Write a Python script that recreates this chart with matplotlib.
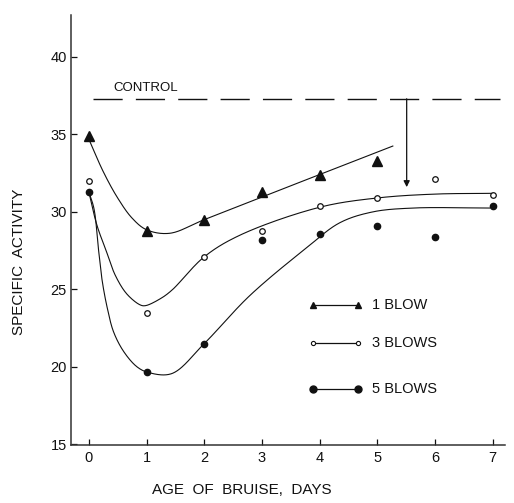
import numpy as np
import matplotlib
matplotlib.use("Agg")
import matplotlib.pyplot as plt

plt.rcParams["font.family"] = ["Liberation Sans", "DejaVu Sans"]

# Measured specific activity by age of bruise (days)
days_1 = [0, 1, 2, 3, 4, 5]
blow_1 = [34.9, 28.75, 29.5, 31.3, 32.4, 33.3]
days_35 = [0, 1, 2, 3, 4, 5, 6, 7]
blow_3 = [32.0, 23.5, 27.1, 28.8, 30.4, 30.9, 32.1, 31.1]
blow_5 = [31.3, 19.65, 21.5, 28.2, 28.6, 29.1, 28.4, 30.4]

# Hand-fitted trend curves (knots along each drawn curve)
fit1_x = [0.0, 0.25, 0.5, 0.75, 1.0, 1.4, 2.0, 3.6, 5.27]
fit1_y = [34.7, 32.6, 30.9, 29.6, 28.85, 28.62, 29.5, 31.83, 34.25]
fit3_x = [0.0, 0.14, 0.3, 0.46, 0.66, 0.89, 0.98, 1.24, 1.44, 2.0, 2.62,
          4.0, 5.0, 6.0, 7.0]
fit3_y = [31.3, 29.15, 27.5, 25.9, 24.7, 24.0, 23.95, 24.4, 24.95, 27.1, 28.5,
          30.3, 30.9, 31.15, 31.2]
fit5_x = [0.0, 0.09, 0.17, 0.23, 0.32, 0.43, 0.61, 0.84, 1.04, 1.44, 2.0,
          2.79, 3.78, 4.35, 4.92, 5.62, 6.95]
fit5_y = [31.3, 30.2, 27.5, 25.6, 23.8, 22.25, 20.96, 19.99, 19.63, 19.57,
          21.5, 24.6, 27.7, 29.3, 30.0, 30.25, 30.25]

control_level = 37.3
control_start, control_end = 0.07, 7.12
arrow_day, arrow_tip = 5.51, 31.6

legend_labels = ["1 BLOW", "3 BLOWS", "5 BLOWS"]


def catmull_rom(xs, ys, yscale=0.27, n=30):
    """Centripetal Catmull-Rom curve through the knots."""
    P = np.column_stack([np.asarray(xs, float), np.asarray(ys, float) * yscale])
    P = np.vstack([2 * P[0] - P[1], P, 2 * P[-1] - P[-2]])
    out = []
    for i in range(1, len(P) - 2):
        p0, p1, p2, p3 = P[i - 1:i + 3]
        t0 = 0.0
        t1 = t0 + np.linalg.norm(p1 - p0) ** 0.5
        t2 = t1 + np.linalg.norm(p2 - p1) ** 0.5
        t3 = t2 + np.linalg.norm(p3 - p2) ** 0.5
        t = np.linspace(t1, t2, n)[:, None]
        a1 = (t1 - t) / (t1 - t0) * p0 + (t - t0) / (t1 - t0) * p1
        a2 = (t2 - t) / (t2 - t1) * p1 + (t - t1) / (t2 - t1) * p2
        a3 = (t3 - t) / (t3 - t2) * p2 + (t - t2) / (t3 - t2) * p3
        b1 = (t2 - t) / (t2 - t0) * a1 + (t - t0) / (t2 - t0) * a2
        b2 = (t3 - t) / (t3 - t1) * a2 + (t - t1) / (t3 - t1) * a3
        c = (t2 - t) / (t2 - t1) * b1 + (t - t1) / (t2 - t1) * b2
        out.append(c if i == 1 else c[1:])
    C = np.vstack(out)
    return C[:, 0], C[:, 1] / yscale


fig = plt.figure(figsize=(5.14, 5.03), dpi=100)
ax = fig.add_axes([0.138, 0.115, 0.844, 0.855])
ax.set_xlim(-0.31, 7.21)
ax.set_ylim(14.95, 42.7)

ink = "#111111"
lw_curve = 0.8

for fx, fy in [(fit1_x, fit1_y), (fit3_x, fit3_y), (fit5_x, fit5_y)]:
    cx, cy = catmull_rom(fx, fy)
    ax.plot(cx, cy, color=ink, lw=lw_curve)

ax.plot(days_1, blow_1, ls="none", marker="^", ms=6.5, color=ink)
ax.plot(days_35, blow_3, ls="none", marker="o", ms=4, mfc="white", mec=ink, mew=0.9)
ax.plot(days_35, blow_5, ls="none", marker="o", ms=4.5, color=ink)

# Control level and the drop marker
ax.plot([control_start, control_end], [control_level, control_level],
        color=ink, lw=1.0, dashes=(21, 9.5))
ax.text(0.42, 38.0, "CONTROL", fontsize=9.5, color=ink, va="center", ha="left")
ax.annotate("", xy=(arrow_day, arrow_tip), xytext=(arrow_day, control_level),
            arrowprops=dict(arrowstyle="-|>", color=ink, lw=0.9,
                            mutation_scale=9, shrinkA=0, shrinkB=0))

# Key
key_y = [0.326, 0.237, 0.130]
key_styles = [dict(marker="^", ms=4.5, mfc=ink, mec=ink),
              dict(marker="o", ms=3, mfc="white", mec=ink, mew=0.8),
              dict(marker="o", ms=5, mfc=ink, mec=ink)]
for label, yk, st in zip(legend_labels, key_y, key_styles):
    ax.plot([0.558, 0.661], [yk, yk], transform=ax.transAxes, lw=0.9,
            color=ink, **st)
    ax.text(0.694, yk, label, transform=ax.transAxes, fontsize=10.5,
            va="center", ha="left", color=ink)

# Axes styling
for side in ["top", "right"]:
    ax.spines[side].set_visible(False)
for side in ["left", "bottom"]:
    ax.spines[side].set_linewidth(1.1)
    ax.spines[side].set_color("#333333")
ax.spines["left"].set_bounds(14.95, 42.7)

ax.set_xticks(range(0, 8))
ax.set_yticks([15, 20, 25, 30, 35, 40])
ax.tick_params(axis="both", direction="in", length=4, width=0.9,
               labelsize=10.5, colors=ink)
ax.tick_params(axis="y", pad=3)
ax.tick_params(axis="x", pad=4)

fig.text(0.036, 0.48, "SPECIFIC  ACTIVITY", rotation=90, fontsize=11,
         va="center", ha="center", color=ink)
fig.text(0.47, 0.026, "AGE  OF  BRUISE,  DAYS", fontsize=11,
         va="center", ha="center", color=ink)

fig.savefig("out.png", dpi=100, facecolor="white")
